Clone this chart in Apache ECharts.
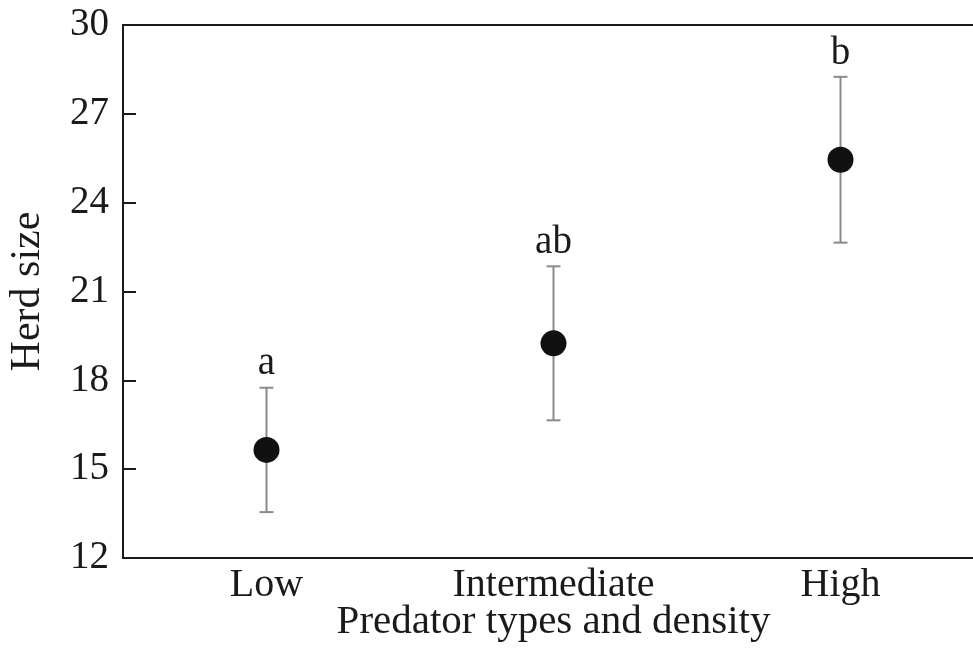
<!DOCTYPE html>
<html>
<head>
<meta charset="utf-8">
<script src="https://cdn.jsdelivr.net/npm/echarts@6/dist/echarts.min.js"></script>
<style>
  html, body { margin: 0; padding: 0; background: #fff; }
  #chart { width: 973px; height: 658px; }
</style>
</head>
<body>
<div id="chart"></div>
<script>
const categories = ['Low', 'Intermediate', 'High']
const means = [15.65, 19.25, 25.45]
const lower = [13.55, 16.65, 22.65]
const upper = [17.75, 21.85, 28.25]
const letters = ['a', 'ab', 'b']
const yTicks = { min: 12, max: 30, step: 3 }

const FONT = '"Liberation Serif", "Times New Roman", serif'
const INK = '#1a1a1a'
const BAR = '#8a8a8a'

const chart = echarts.init(document.getElementById('chart'), null, { renderer: 'canvas' })

// error bars + significance letters
const renderErr = (params, api) => {
  const i = api.value(0)
  const top = api.coord([i, api.value(2)])
  const bot = api.coord([i, api.value(1)])
  const cap = 7
  const style = { stroke: BAR, lineWidth: 2 }
  return {
    type: 'group',
    children: [
      { type: 'line', shape: { x1: top[0], y1: top[1], x2: bot[0], y2: bot[1] }, style },
      { type: 'line', shape: { x1: top[0] - cap, y1: top[1], x2: top[0] + cap, y2: top[1] }, style },
      { type: 'line', shape: { x1: bot[0] - cap, y1: bot[1], x2: bot[0] + cap, y2: bot[1] }, style },
      {
        type: 'text',
        x: top[0], y: top[1] - 4,
        style: {
          text: letters[i], fill: INK, font: '39px ' + FONT,
          align: 'center', verticalAlign: 'bottom'
        }
      }
    ]
  }
}

const option = {
  backgroundColor: '#fff',
  animation: false,
  grid: {
    left: 123, top: 25, width: 861, height: 533,
    outerBoundsMode: 'none',
    show: true, borderColor: INK, borderWidth: 2, backgroundColor: 'transparent'
  },
  xAxis: {
    type: 'category',
    data: categories,
    name: 'Predator types and density',
    nameLocation: 'middle',
    nameGap: 44,
    nameMoveOverlap: false,
    nameTextStyle: { fontFamily: FONT, fontSize: 41, color: INK },
    axisLine: { lineStyle: { color: INK, width: 2 } },
    axisTick: { show: false },
    axisLabel: { fontFamily: FONT, fontSize: 40, color: INK, margin: 7 },
    splitLine: { show: false }
  },
  yAxis: {
    type: 'value',
    min: yTicks.min, max: yTicks.max, interval: yTicks.step,
    name: 'Herd size',
    nameLocation: 'middle',
    nameGap: 74,
    nameMoveOverlap: false,
    nameTextStyle: { fontFamily: FONT, fontSize: 42, color: INK },
    axisLine: { show: true, lineStyle: { color: INK, width: 2 } },
    axisTick: { show: true, inside: true, length: 13, lineStyle: { color: INK, width: 2 } },
    axisLabel: { fontFamily: FONT, fontSize: 39, color: INK, margin: 14 },
    splitLine: { show: false }
  },
  series: [
    {
      type: 'custom',
      renderItem: renderErr,
      data: categories.map((c, i) => [i, lower[i], upper[i]]),
      encode: { x: 0, y: [1, 2] },
      z: 2
    },
    {
      type: 'scatter',
      data: means,
      symbol: 'circle',
      symbolSize: 26,
      itemStyle: { color: '#111', opacity: 1 },
      z: 3
    }
  ]
}

chart.setOption(option)
</script>
</body>
</html>
